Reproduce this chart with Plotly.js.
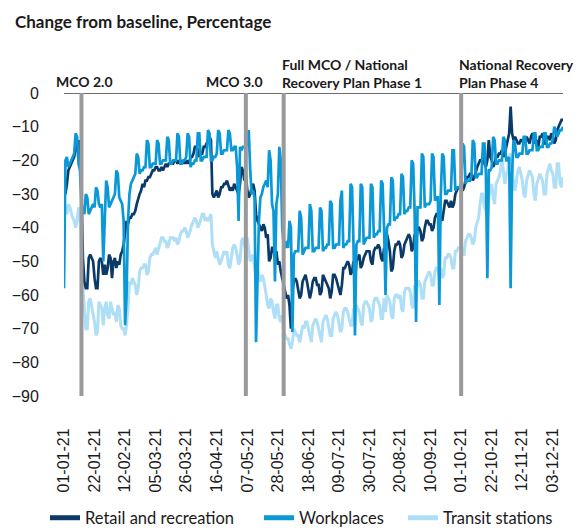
<!DOCTYPE html>
<html>
<head>
<meta charset="utf-8">
<script src="https://cdn.plot.ly/plotly-3.0.1.min.js"></script>
<style>html,body{margin:0;padding:0;background:#fff;}#chart{width:587px;height:528px;}</style>
</head>
<body>
<div id="chart"></div>
<script>
// Daily series from 2021-01-01 (one value per day)
var startDate = '2021-01-01';
var retail = [
-22,-30,-27,-23,-22,-21,-20,
-19,-16,-14,-20,-14,-30,-49,
-56,-58,-58,-49,-48,-49,-50,
-55,-58,-58,-50,-49,-50,-54,
-51,-54,-52,-48,-49,-55,-50,
-49,-52,-50,-51,-48,-47,-45,
-42,-38,-39,-37,-37,-36,-36,
-35,-33,-31,-30,-29,-27,-28,
-26,-26,-25,-25,-24,-23,-23,
-22,-22,-23,-23,-22,-23,-22,
-21,-22,-21,-21,-21,-21,-20,
-20,-21,-20,-21,-20,-21,-20,
-21,-20,-21,-19,-19,-18,-16,
-16,-17,-19,-18,-18,-16,-16,
-15,-14,-13,-14,-30,-31,-30,
-29,-31,-30,-28,-28,-27,-27,
-26,-28,-29,-28,-29,-27,-28,
-29,-30,-27,-22,-23,-26,-24,
-29,-31,-30,-28,-27,-29,-36,
-38,-39,-40,-41,-39,-40,-43,
-42,-50,-49,-46,-46,-49,-47,
-51,-50,-53,-55,-57,-59,-61,
-60,-63,-70,-59,-56,-55,-56,
-58,-61,-60,-56,-55,-54,-56,
-58,-61,-59,-56,-55,-55,-57,
-57,-60,-59,-54,-55,-56,-57,
-58,-61,-59,-54,-54,-55,-57,
-58,-60,-57,-52,-52,-51,-50,
-51,-54,-53,-50,-56,-50,-49,
-48,-52,-51,-49,-48,-47,-47,
-47,-50,-51,-47,-46,-46,-45,
-46,-49,-50,-46,-48,-42,-44,
-47,-53,-52,-47,-45,-45,-44,
-45,-49,-48,-45,-44,-43,-42,
-43,-47,-46,-42,-45,-40,-40,
-41,-44,-43,-40,-38,-38,-39,
-39,-41,-40,-37,-36,-36,-40,
-36,-38,-35,-32,-32,-33,-34,
-32,-34,-33,-30,-29,-28,-28,
-27,-29,-28,-26,-25,-25,-24,
-24,-26,-25,-23,-22,-21,-20,
-20,-19,-21,-22,-20,-14,-19,
-20,-22,-21,-19,-19,-18,-18,
-17,-19,-18,-16,-15,-12,-4,
-12,-14,-13,-14,-15,-15,-14,
-14,-15,-14,-13,-14,-15,-13,
-12,-14,-15,-14,-16,-13,-13,
-12,-15,-15,-13,-13,-14,-12,
-13,-15,-14,-11,-10,-9,-8,
-8];
var workplaces = [
-58,-20,-19,-22,-21,-20,-19,
-18,-12,-13,-21,-23,-33,-35,
-36,-30,-31,-36,-35,-34,-33,
-34,-28,-29,-33,-34,-33,-50,
-35,-26,-28,-34,-33,-32,-31,
-30,-23,-24,-31,-32,-33,-38,
-69,-60,-38,-30,-27,-26,-25,
-24,-18,-19,-24,-23,-23,-22,
-22,-14,-15,-22,-22,-21,-21,
-21,-14,-15,-21,-21,-20,-20,
-20,-13,-14,-21,-21,-20,-20,
-20,-12,-13,-21,-21,-20,-20,
-19,-12,-13,-22,-21,-21,-20,
-20,-12,-12,-20,-20,-19,-19,
-19,-11,-12,-20,-20,-19,-19,
-18,-11,-12,-18,-18,-17,-17,
-17,-11,-12,-17,-17,-16,-16,
-22,-38,-16,-17,-16,-16,-16,
-15,-11,-23,-30,-29,-31,-74,
-55,-38,-31,-30,-28,-27,-26,
-28,-17,-20,-33,-35,-56,-33,
-30,-16,-20,-40,-45,-46,-44,
-46,-38,-40,-71,-48,-47,-47,
-47,-35,-37,-48,-47,-46,-46,
-46,-33,-35,-47,-47,-46,-46,
-46,-34,-35,-47,-46,-46,-45,
-45,-32,-33,-46,-46,-45,-45,
-45,-32,-29,-46,-45,-45,-44,
-44,-27,-28,-45,-72,-45,-44,
-44,-27,-28,-45,-44,-43,-43,
-43,-27,-28,-43,-42,-42,-41,
-41,-26,-27,-40,-60,-40,-39,
-39,-25,-26,-38,-37,-37,-36,
-36,-24,-25,-36,-35,-35,-34,
-34,-20,-21,-35,-68,-34,-34,
-34,-18,-19,-34,-33,-33,-33,
-32,-18,-19,-32,-31,-31,-63,
-30,-18,-19,-30,-30,-29,-29,
-29,-17,-17,-29,-28,-28,-28,
-27,-15,-16,-27,-26,-26,-26,
-25,-14,-15,-25,-25,-24,-24,
-24,-15,-15,-24,-55,-23,-23,
-22,-13,-14,-21,-21,-20,-20,
-20,-13,-14,-20,-20,-19,-58,
-24,-14,-15,-19,-19,-18,-18,
-18,-13,-13,-18,-18,-17,-17,
-17,-12,-12,-17,-17,-16,-16,
-16,-12,-12,-16,-16,-15,-15,
-14,-10,-11,-13,-12,-11,-11,
-10];
var transit = [
-31,-35,-36,-33,-34,-36,-37,
-38,-40,-38,-34,-35,-48,-58,
-64,-70,-70,-62,-61,-63,-65,
-68,-72,-71,-62,-63,-64,-69,
-64,-62,-66,-67,-62,-64,-66,
-65,-68,-63,-64,-69,-70,-70,
-72,-69,-64,-56,-57,-55,-56,
-57,-60,-58,-53,-52,-52,-51,
-51,-54,-53,-49,-48,-48,-47,
-46,-48,-46,-44,-43,-43,-44,
-44,-46,-45,-43,-43,-43,-44,
-43,-45,-44,-42,-41,-41,-40,
-41,-43,-42,-40,-39,-38,-37,
-38,-40,-39,-37,-36,-36,-38,
-37,-38,-37,-36,-45,-47,-49,
-47,-49,-51,-50,-48,-47,-48,
-47,-51,-52,-49,-46,-45,-46,
-48,-51,-50,-44,-43,-45,-47,
-43,-47,-50,-49,-48,-52,-55,
-52,-55,-56,-54,-55,-57,-60,
-63,-64,-61,-62,-65,-67,-63,
-63,-67,-68,-66,-71,-72,-73,
-73,-75,-76,-74,-70,-71,-72,
-72,-74,-72,-69,-70,-68,-68,
-70,-73,-74,-69,-68,-67,-68,
-70,-73,-74,-68,-67,-66,-67,
-69,-72,-72,-67,-66,-65,-66,
-68,-71,-70,-65,-64,-64,-65,
-67,-69,-69,-64,-69,-63,-64,
-65,-68,-69,-63,-62,-62,-63,
-64,-68,-67,-62,-61,-61,-62,
-63,-67,-67,-61,-65,-60,-61,
-62,-66,-67,-61,-60,-60,-61,
-60,-64,-65,-59,-58,-58,-58,
-59,-63,-64,-57,-62,-56,-56,
-57,-61,-61,-56,-55,-54,-53,
-54,-57,-57,-53,-52,-52,-55,
-52,-55,-54,-49,-49,-48,-48,
-49,-52,-52,-47,-47,-46,-46,
-45,-48,-48,-44,-43,-42,-42,
-43,-45,-44,-40,-38,-37,-33,
-30,-30,-34,-35,-37,-31,-29,
-27,-31,-33,-27,-26,-25,-23,
-20,-23,-27,-24,-23,-19,-18,
-22,-27,-29,-25,-23,-22,-24,
-26,-30,-31,-26,-24,-23,-24,
-25,-30,-32,-27,-25,-24,-25,
-26,-30,-30,-24,-22,-21,-23,
-24,-28,-28,-21,-21,-27,-28,
-25];

var seriesNames = ['Retail and recreation', 'Workplaces', 'Transit stations'];
var tickDates = ['2021-01-01','2021-01-22','2021-02-12','2021-03-05','2021-03-26','2021-04-16','2021-05-07','2021-05-28','2021-06-18','2021-07-09','2021-07-30','2021-08-20','2021-09-10','2021-10-01','2021-10-22','2021-11-12','2021-12-03'];
var tickLabels = ['01-01-21','22-01-21','12-02-21','05-03-21','26-03-21','16-04-21','07-05-21','28-05-21','18-06-21','09-07-21','30-07-21','20-08-21','10-09-21','01-10-21','22-10-21','12-11-21','03-12-21'];
var eventDates = ['2021-01-13','2021-05-06','2021-06-01','2021-10-01'];
var yTicks = [0,-10,-20,-30,-40,-50,-60,-70,-80,-90];

var DAY = 86400000;
var colRetail = '#0b3a69', colWork = '#0a98d6', colTransit = '#aedff7';

var traces = [
  {type:'scatter', mode:'lines', name:seriesNames[2], x0:startDate, dx:DAY, y:transit,
   line:{color:colTransit, width:3}, showlegend:false},
  {type:'scatter', mode:'lines', name:seriesNames[0], x0:startDate, dx:DAY, y:retail,
   line:{color:colRetail, width:2.7}, showlegend:false},
  {type:'scatter', mode:'lines', name:seriesNames[1], x0:startDate, dx:DAY, y:workplaces,
   line:{color:colWork, width:2.7}, showlegend:false},
  // legend keys (thicker, as in the reference)
  {type:'scatter', mode:'lines', name:seriesNames[0], x:[null], y:[null],
   line:{color:colRetail, width:5}, legend:'legend', showlegend:true},
  {type:'scatter', mode:'lines', name:seriesNames[1], x:[null], y:[null],
   line:{color:colWork, width:5}, legend:'legend2', showlegend:true},
  {type:'scatter', mode:'lines', name:seriesNames[2], x:[null], y:[null],
   line:{color:colTransit, width:5}, legend:'legend3', showlegend:true}
];

var shapes = [{type:'line', xref:'paper', x0:0, x1:1, yref:'y', y0:0, y1:0,
  line:{color:'#6e6e6e', width:2}, layer:'above'}];
eventDates.forEach(function(d){
  shapes.push({type:'line', xref:'x', x0:d, x1:d, yref:'y', y0:0, y1:-90,
    line:{color:'#9a9a9c', width:4}, layer:'above'});
});

var annFont = {family:'Lato', size:14, color:'#1a1a1a', weight:700};
function px2paper(px){ return (px-64)/499; }
function py2paper(py){ return (396-py)/303; }
var annotations = [
  {text:'MCO 2.0', x:px2paper(84), xanchor:'center', y:81.7},
  {text:'MCO 3.0', x:px2paper(234), xanchor:'center', y:81.7},
  {text:'Full MCO / National<br>Recovery Plan Phase 1', x:px2paper(280), xanchor:'left', y:73.6},
  {text:'National Recovery<br>Plan Phase 4', x:px2paper(457), xanchor:'left', y:73.6}
].map(function(a){
  return {text:a.text, xref:'paper', yref:'paper', x:a.x, xanchor:a.xanchor, align:'left',
    y: py2paper(a.y), yanchor:'middle', showarrow:false, font:annFont};
});

var legFont = {family:'Lato', size:16.5, color:'#1a1a1a'};
function legendAt(px){
  return {orientation:'h', x:px2paper(px), xanchor:'left', y:py2paper(518), yanchor:'middle',
    font:legFont, bgcolor:'rgba(0,0,0,0)'};
}

var layout = {
  width:587, height:528,
  margin:{l:64, r:24, t:93, b:132, autoexpand:false},
  paper_bgcolor:'#fff', plot_bgcolor:'#fff',
  title:{text:'Change from baseline, Percentage', x:15/587, xref:'container', xanchor:'left',
    y:1-21.7/528, yref:'container', yanchor:'middle',
    font:{family:'Lato', size:17, color:'#1a1a1a', weight:700}},
  xaxis:{type:'date', range:['2021-01-01','2021-12-10'], tickvals:tickDates, ticktext:tickLabels,
    tickangle:-90, ticks:'outside', ticklen:25, tickcolor:'rgba(0,0,0,0)',
    tickfont:{family:'Liberation Sans', size:16, color:'#1a1a1a'},
    showgrid:false, zeroline:false, showline:false},
  yaxis:{range:[-90,0], tickvals:yTicks, ticks:'outside', ticklen:21, tickcolor:'rgba(0,0,0,0)',
    tickfont:{family:'Liberation Sans', size:16, color:'#1a1a1a'},
    showgrid:false, zeroline:false, showline:false},
  showlegend:true,
  legend:legendAt(45),
  legend2:legendAt(259),
  legend3:legendAt(403),
  shapes:shapes,
  annotations:annotations
};

Plotly.newPlot('chart', traces, layout, {displayModeBar:false, staticPlot:true});
</script>
</body>
</html>
